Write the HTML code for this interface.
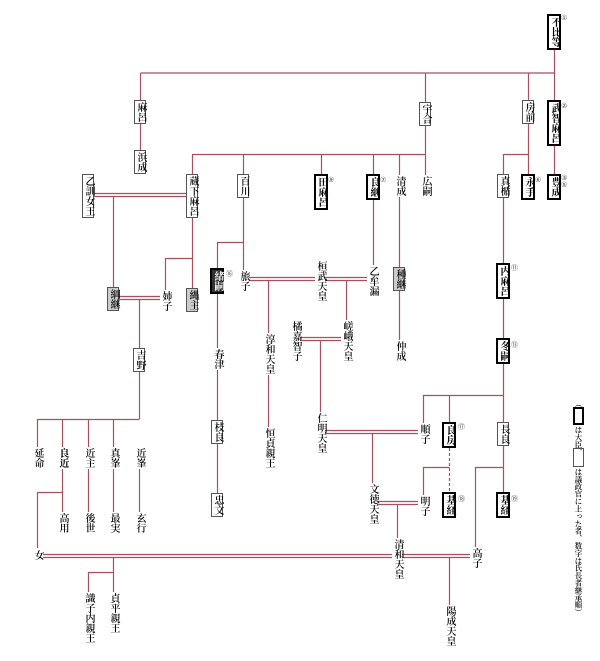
<!DOCTYPE html>
<html><head><meta charset="utf-8">
<style>
html,body{margin:0;padding:0;background:#fff;}
#w{position:relative;width:600px;height:661px;overflow:hidden;font-family:"Liberation Serif","Noto Serif CJK SC","Noto Sans CJK JP",serif;}
svg{position:absolute;left:0;top:0;}
.n{position:absolute;writing-mode:vertical-rl;font-size:10px;line-height:10px;transform:translateX(-50%);background:#fff;color:#000;padding:1px 0;white-space:nowrap;font-weight:600;}
.b{border:1px solid #555;padding:1px 0;}
.k{border:2px solid #000;padding:1px 0;font-weight:bold;}
.c{position:absolute;font-size:7px;color:#555;line-height:7px;font-family:"DejaVu Sans",sans-serif;}
.lg{position:absolute;writing-mode:vertical-rl;font-size:7.4px;line-height:8px;transform:translateX(-50%);color:#000;white-space:nowrap;font-weight:600;}
</style></head><body><div id="w">
<svg width="600" height="661" fill="none" stroke="#a8505e" stroke-width="1.2">
<path d="M554.5 47V175M140.5 73H554.5M140.5 73V150M425.5 73V175M528.5 73V175M192.5 154.5H425.5M192.5 154V175M243.5 154V175M321.5 154V175M373.5 154V175M399.5 154V175M503.5 154.5H528.5M503.5 154V175"/>
<path d="M192.5 215V288M93 193.5H186M93 196.5H186M113.5 196V287M165.5 258.5H192.5M165.5 258V290M118 296.5H160M118 299.5H160M139.5 299V419M37.5 419.5H139.5M37.5 419V447M62.5 419V447M88.5 419V447M113.5 419V447"/>
<path d="M62.5 465V512M37.5 492.5H62.5M37.5 492V548M88.5 465V512M113.5 465V512M139.5 465V512"/>
<path d="M243.5 195V270M217.5 242.5H243.5M217.5 242V493M249 277.5H368M249 280.5H368M268.5 281V427M346.5 281V320M373.5 195V265M399.5 197V340M503.5 198V492M423.5 395.5H503.5M423.5 395V423M449.5 395V422"/>
<path d="M300 337.5H341M300 340.5H341M320.5 341V412M325 430.5H418M325 433.5H418M372.5 434V483M423.5 467.5H449.5M423.5 467V495M475.5 467.5H503.5M475.5 467V547M377 501.5H418M377 504.5H418M397.5 505V538"/>
<path d="M43 554.5H470M43 557.5H470M449.5 558V605M113.5 558V592M88.5 572.5H113.5M88.5 572V592"/>
<path d="M449.5 443V492" stroke-dasharray="3,2"/>
</svg>

<div class="n k" style="left:554px;top:14px">不比等</div>
<div class="n b" style="left:140px;top:100px">麻呂</div>
<div class="n b" style="left:140px;top:150px">浜成</div>
<div class="n b" style="left:425px;top:102px">宇合</div>
<div class="n b" style="left:528px;top:100px">房前</div>
<div class="n k" style="left:554px;top:100px">武智麻呂</div>
<div class="n b" style="left:88px;top:174px">乙訓女王</div>
<div class="n b" style="left:192px;top:174px">蔵下麻呂</div>
<div class="n b" style="left:243px;top:174px">百川</div>
<div class="n k" style="left:321px;top:174px">田麻呂</div>
<div class="n k" style="left:373px;top:174px">良継</div>
<div class="n" style="left:399px;top:175px">清成</div>
<div class="n" style="left:425px;top:175px">広嗣</div>
<div class="n b" style="left:503px;top:174px">真楯</div>
<div class="n k" style="left:528px;top:174px">永手</div>
<div class="n k" style="left:554px;top:174px">豊成</div>
<div class="n b" style="left:113px;top:287px;background:#ccc">綱継</div>
<div class="n" style="left:165px;top:290px">姉子</div>
<div class="n b" style="left:192px;top:288px;background:#ccc">縄主</div>
<div class="n k" style="left:217px;top:268px;background:#333;color:#fff">緒嗣</div>
<div class="n" style="left:243px;top:270px">旅子</div>
<div class="n" style="left:320px;top:260px">桓武天皇</div>
<div class="n" style="left:372px;top:265px">乙牟漏</div>
<div class="n b" style="left:399px;top:267px;background:#ccc">種継</div>
<div class="n k" style="left:503px;top:263px">内麻呂</div>
<div class="n k" style="left:503px;top:338px">冬嗣</div>
<div class="n" style="left:346px;top:320px">嵯峨天皇</div>
<div class="n" style="left:295px;top:320px">橘嘉智子</div>
<div class="n" style="left:268px;top:333px">淳和天皇</div>
<div class="n" style="left:399px;top:340px">仲成</div>
<div class="n b" style="left:139px;top:348px">吉野</div>
<div class="n" style="left:217px;top:348px">春津</div>
<div class="n b" style="left:217px;top:420px">枝良</div>
<div class="n b" style="left:217px;top:493px">忠文</div>
<div class="n" style="left:268px;top:427px">恒貞親王</div>
<div class="n" style="left:320px;top:412px">仁明天皇</div>
<div class="n" style="left:423px;top:423px">順子</div>
<div class="n k" style="left:449px;top:422px">良房</div>
<div class="n b" style="left:503px;top:422px">長良</div>
<div class="n" style="left:37px;top:447px">延命</div>
<div class="n" style="left:62px;top:447px;font-weight:bold">良近</div>
<div class="n" style="left:88px;top:447px">近主</div>
<div class="n" style="left:113px;top:447px">真峯</div>
<div class="n" style="left:139px;top:447px">近峯</div>
<div class="n" style="left:62px;top:512px">高用</div>
<div class="n" style="left:88px;top:512px">後世</div>
<div class="n" style="left:113px;top:512px">最実</div>
<div class="n" style="left:139px;top:512px">玄行</div>
<div class="n" style="left:423px;top:495px">明子</div>
<div class="n k" style="left:449px;top:492px">基経</div>
<div class="n k" style="left:503px;top:492px">基経</div>
<div class="n" style="left:372px;top:483px">文徳天皇</div>
<div class="n" style="left:397px;top:538px">清和天皇</div>
<div class="n" style="left:475px;top:547px">高子</div>
<div class="n" style="left:37px;top:549px">女</div>
<div class="n" style="left:113px;top:592px">貞平親王</div>
<div class="n" style="left:88px;top:592px">識子内親王</div>
<div class="n" style="left:449px;top:605px">陽成天皇</div>

<div class="c" style="left:561px;top:15px">①</div>
<div class="c" style="left:561px;top:103px">②</div>
<div class="c" style="left:328px;top:177px">⑨</div>
<div class="c" style="left:380px;top:177px">⑦</div>
<div class="c" style="left:535px;top:177px">⑥</div>
<div class="c" style="left:561px;top:175px">③<br>⑤</div>
<div class="c" style="left:226px;top:271px">⑯</div>
<div class="c" style="left:511px;top:265px">⑪</div>
<div class="c" style="left:511px;top:342px">⑬</div>
<div class="c" style="left:458px;top:424px">⑰</div>
<div class="c" style="left:458px;top:496px">⑱</div>
<div class="c" style="left:511px;top:496px">⑲</div>

<div class="lg" style="left:578px;top:400px">︵</div>
<div style="position:absolute;left:573px;top:407px;width:7px;height:14px;border:2px solid #000"></div>
<div class="lg" style="left:578px;top:426px">は大臣、</div>
<div style="position:absolute;left:573px;top:448px;width:9px;height:17px;border:1px solid #555"></div>
<div class="lg" style="left:578px;top:468px">は議政官に上った者、数字は氏長者継承順︶</div>
</div></body></html>
